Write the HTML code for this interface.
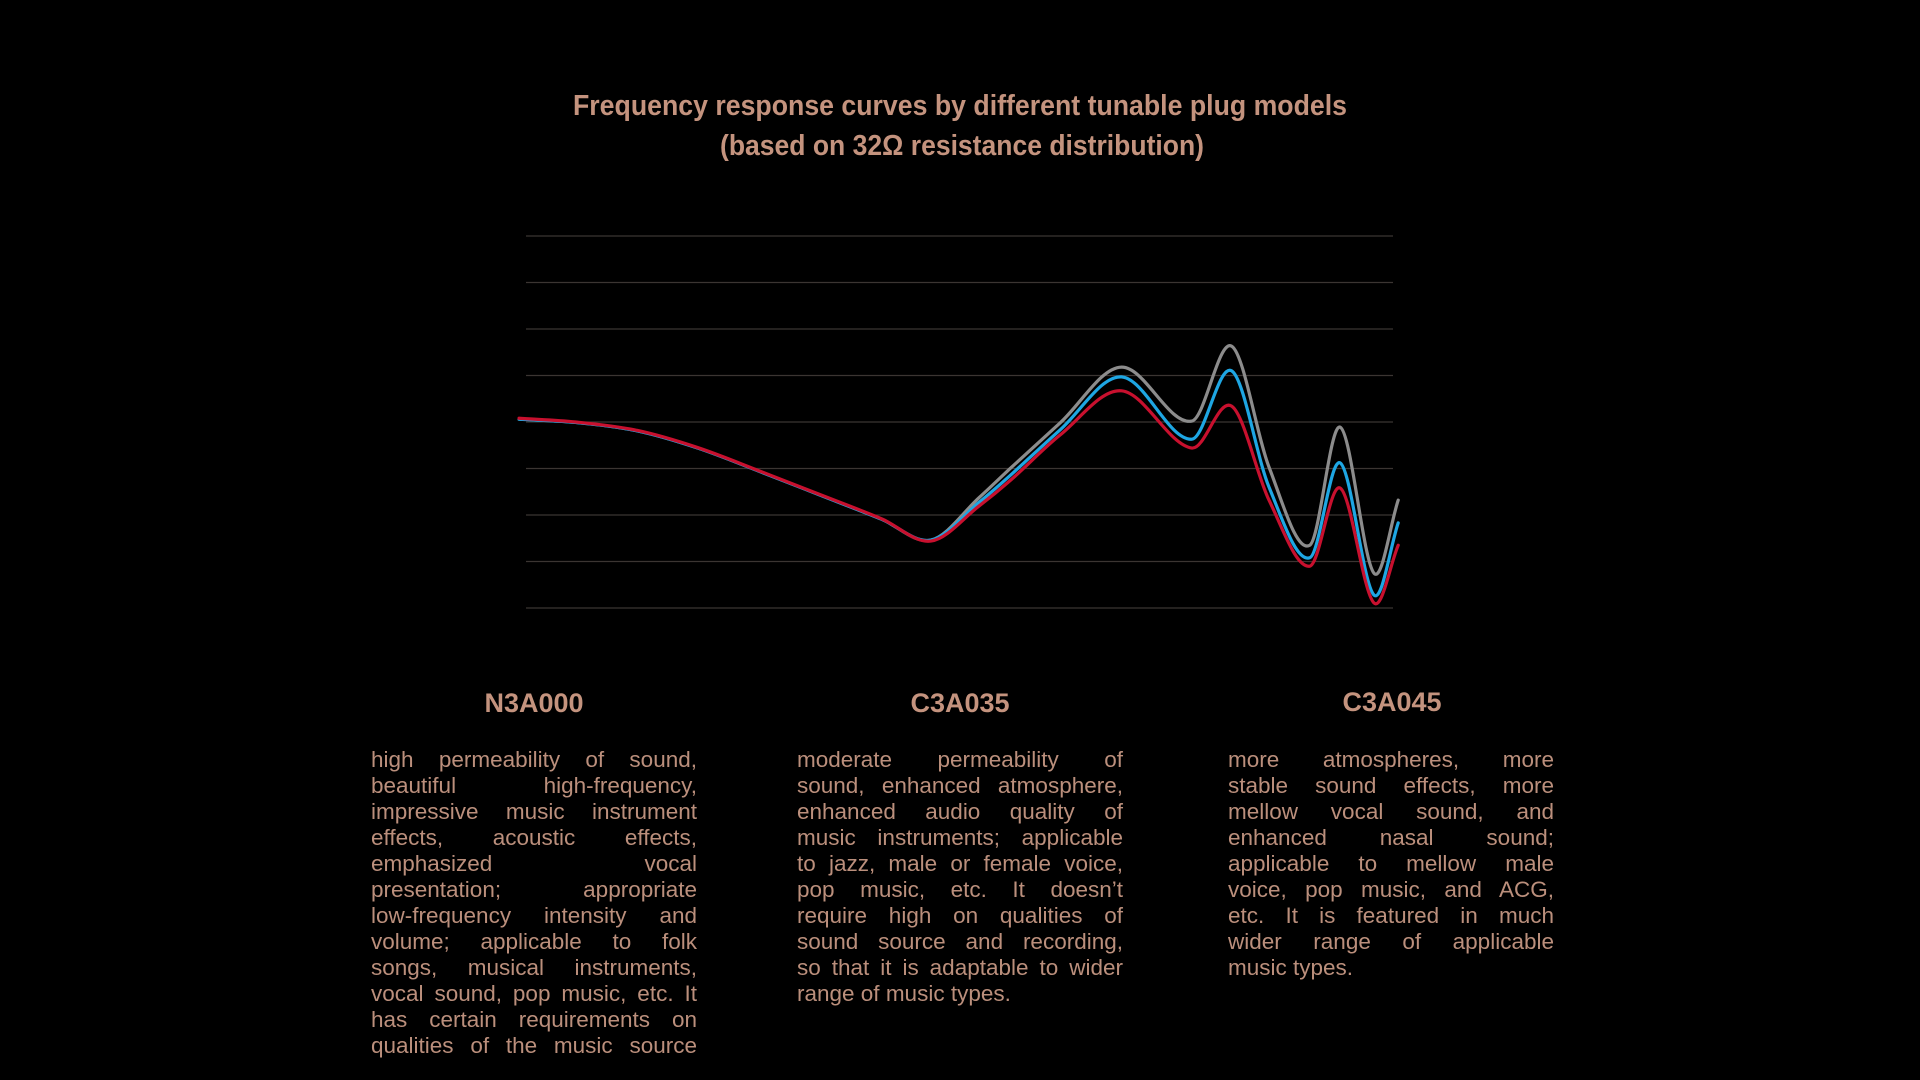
<!DOCTYPE html>
<html><head><meta charset="utf-8">
<style>
html,body{margin:0;padding:0;background:#000;}
body{width:1920px;height:1080px;position:relative;overflow:hidden;font-family:"Liberation Sans",sans-serif;}
.col{position:absolute;width:326px;color:#bb8f7c;font-size:22.5px;line-height:26px;}
.col span{display:block;text-align:justify;text-align-last:justify;white-space:nowrap;}
.col span.last{text-align-last:left;}
.hd{position:absolute;width:300px;text-align:center;color:#c4937e;font-weight:bold;font-size:27px;}
</style></head>
<body>
<svg width="1920" height="1080" style="position:absolute;left:0;top:0">
  <text x="960" y="115" text-anchor="middle" fill="#c4937e" font-family="Liberation Sans, sans-serif" font-size="29" font-weight="bold" textLength="774" lengthAdjust="spacingAndGlyphs">Frequency response curves by different tunable plug models</text>
  <text x="962" y="155" text-anchor="middle" fill="#c4937e" font-family="Liberation Sans, sans-serif" font-size="29" font-weight="bold" textLength="484" lengthAdjust="spacingAndGlyphs">(based on 32Ω resistance distribution)</text>
  <g id="grid"></g>
  <g id="lines"></g>
</svg>

<div class="hd" style="left:384px;top:688px;">N3A000</div>
<div class="hd" style="left:810px;top:688px;">C3A035</div>
<div class="hd" style="left:1242px;top:687px;">C3A045</div>

<div class="col" style="left:371px;top:747px;">
<span>high permeability of sound,</span><span>beautiful high-frequency,</span><span>impressive music instrument</span><span>effects, acoustic effects,</span><span>emphasized vocal</span><span>presentation; appropriate</span><span>low-frequency intensity and</span><span>volume; applicable to folk</span><span>songs, musical instruments,</span><span>vocal sound, pop music, etc. It</span><span>has certain requirements on</span><span>qualities of the music source</span></div>
<div class="col" style="left:797px;top:747px;">
<span>moderate permeability of</span><span>sound, enhanced atmosphere,</span><span>enhanced audio quality of</span><span>music instruments; applicable</span><span>to jazz, male or female voice,</span><span>pop music, etc. It doesn’t</span><span>require high on qualities of</span><span>sound source and recording,</span><span>so that it is adaptable to wider</span><span class="last">range of music types.</span></div>
<div class="col" style="left:1228px;top:747px;">
<span>more atmospheres, more</span><span>stable sound effects, more</span><span>mellow vocal sound, and</span><span>enhanced nasal sound;</span><span>applicable to mellow male</span><span>voice, pop music, and ACG,</span><span>etc. It is featured in much</span><span>wider range of applicable</span><span class="last">music types.</span></div>

<script>
const xPositions = [-0.8, 5.7, 12.8, 19.8, 26.9, 33.9, 41.0, 46.7, 52.3, 55.9, 61.6, 68.7, 76.8, 81.4, 85.7, 90.4, 93.9, 97.8, 100.6];
const seriesNames = ["C3A045", "C3A035", "N3A000"];
const grayValues = [4.06, 3.99, 3.81, 3.44, 2.94, 2.43, 1.91, 1.46, 2.38, 3.01, 3.98, 5.18, 4.02, 5.63, 3.03, 1.35, 3.89, 0.75, 2.32];
const blueValues = [4.06, 3.99, 3.81, 3.44, 2.94, 2.43, 1.91, 1.46, 2.28, 2.86, 3.83, 4.97, 3.63, 5.10, 2.60, 1.08, 3.12, 0.28, 1.83];
const redValues  = [4.08, 4.00, 3.82, 3.45, 2.95, 2.44, 1.92, 1.44, 2.20, 2.75, 3.72, 4.67, 3.44, 4.34, 2.32, 0.90, 2.58, 0.11, 1.35];
const gridTicks = [0, 1, 2, 3, 4, 5, 6, 7, 8];

const X0 = 526, X1 = 1393, Y0 = 608, Y1 = 236;
function xScale(v){ return X0 + (v/100)*(X1-X0); }
function yScale(v){ return Y0 - (v/8)*(Y0-Y1); }
const NS = "http://www.w3.org/2000/svg";

const grid = document.getElementById('grid');
gridTicks.forEach(t=>{
  const l = document.createElementNS(NS,'line');
  
  
  l.setAttribute('x1',X0); l.setAttribute('x2',X1);
  l.setAttribute('y1',yScale(t)); l.setAttribute('y2',yScale(t));
  l.setAttribute('stroke','#3b3532'); l.setAttribute('stroke-width','1.3');
  grid.appendChild(l);
});

function pathFor(vals){
  const p = xPositions.map((x,i)=>[xScale(x), yScale(vals[i])]);
  const n = p.length, m=[];
  for(let i=0;i<n;i++){
    const a=p[Math.max(0,i-1)], b=p[Math.min(n-1,i+1)];
    m[i]=(b[1]-a[1])/(b[0]-a[0]);
  }
  let s='M'+p[0][0]+','+p[0][1];
  for(let i=0;i<n-1;i++){
    const h=(p[i+1][0]-p[i][0])/3;
    s+=' C'+(p[i][0]+h)+','+(p[i][1]+m[i]*h)+' '+(p[i+1][0]-h)+','+(p[i+1][1]-m[i+1]*h)+' '+p[i+1][0]+','+p[i+1][1];
  }
  return s;
}
const lines = document.getElementById('lines');
[[grayValues,'#8c8c8c','series-c3a045-line'],[blueValues,'#1ea6e3','series-c3a035-line'],[redValues,'#c8102e','series-n3a000-line']].forEach(s=>{
  const path = document.createElementNS(NS,'path');
  
  
  path.setAttribute('d', pathFor(s[0]));
  path.setAttribute('fill','none');
  path.setAttribute('stroke', s[1]);
  path.setAttribute('stroke-width','3.2');
  path.setAttribute('stroke-linecap','round');
  lines.appendChild(path);
});
</script>
</body></html>
